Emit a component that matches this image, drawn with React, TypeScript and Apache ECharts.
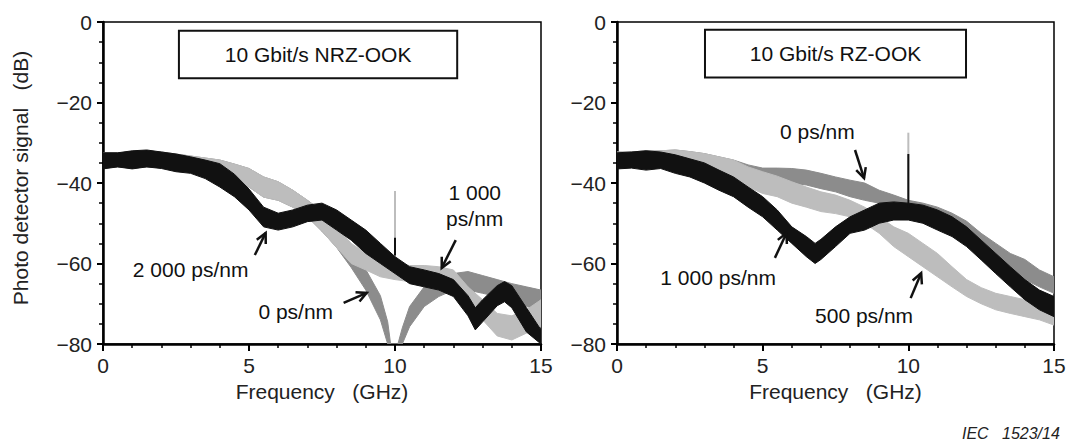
import React, { useEffect, useRef } from 'react';
import * as echarts from 'echarts';

const FONT = '"Liberation Sans", Arial, Helvetica, sans-serif';
const BLACK = '#111111';
const DARK_GRAY = '#8c8c8c';
const LIGHT_GRAY = '#bdbdbd';

// ---------- Left panel: 10 Gbit/s NRZ-OOK ----------
const nrzFreq = [0, 0.5, 1, 1.5, 2, 2.5, 3, 3.5, 4, 4.5, 5, 5.5, 6, 6.5, 7, 7.5, 8, 8.5, 9, 9.5, 10, 10.5, 11, 11.5, 12, 12.5, 13, 13.5, 14, 14.5, 15];
const nrz2000Freq = [0, 0.5, 1, 1.5, 2, 2.5, 3, 3.5, 4, 4.5, 5, 5.5, 6, 6.5, 7, 7.5, 8, 8.5, 9, 9.5, 10, 10.5, 11, 11.5, 12, 12.5, 12.75, 13, 13.5, 13.75, 14, 14.5, 15];
const nrz2000Upper = [-32.5, -32.5, -32, -31.8, -32.3, -32.8, -33.5, -34.3, -35.2, -37.8, -41.5, -46, -47.5, -46.7, -45.5, -45, -46.7, -49.2, -51.7, -55, -58.3, -60.8, -61.6, -62.5, -64, -68, -71, -69, -65.5, -64.5, -65.5, -71, -76.5];
const nrz2000Lower = [-36.5, -36, -36.5, -36, -36.4, -37.2, -37.6, -38.9, -41, -43.4, -46.7, -50.9, -51.7, -50.9, -49.6, -49.2, -51.7, -54.2, -57.5, -60, -62.5, -65, -65.8, -66.6, -68.2, -73, -76.5, -74.5, -70.5, -69.5, -71, -77, -80];
const nrz1000Upper = [-32.5, -32.5, -32.3, -32, -32.3, -32.8, -33.3, -33.8, -34.3, -35.3, -36.4, -38.5, -39.7, -41.8, -44.3, -47, -51, -55, -57.5, -59, -60, -60.5, -60.5, -60.8, -61.6, -65.8, -69, -72.4, -73, -71.5, -69];
const nrz1000Lower = [-36, -36, -36, -36, -36.2, -36.6, -37, -37.6, -38.4, -39.6, -41, -43.5, -44.3, -46, -48.4, -52, -56, -60, -61.6, -63.3, -64, -64.5, -64.5, -65, -65.8, -70.7, -74, -78, -79, -77.3, -75.7];
const nrz0Freq = [0, 0.5, 1, 1.5, 2, 2.5, 3, 3.5, 4, 4.5, 5, 5.5, 6, 6.5, 7, 7.5, 8, 8.5, 9, 9.5, 9.75, 9.85, 10.1, 10.25, 10.5, 11, 11.5, 12, 12.5, 13, 13.5, 14, 14.5, 15];
const nrz0Upper = [-32.5, -32.5, -32.3, -32, -32.3, -32.8, -33.3, -33.8, -34.3, -35.3, -36.4, -38.5, -39.7, -41.8, -44.3, -47, -51, -56.5, -61.5, -68, -74.5, -80, -80, -76, -70.7, -65.8, -64, -62.5, -62, -63, -64, -65, -65.8, -66.6];
const nrz0Lower = [-36, -36, -36, -36, -36.2, -36.6, -37, -37.6, -38.4, -39.6, -41, -43.5, -44.3, -46, -48.4, -52, -56, -61, -66.6, -74, -80, -80, -80, -80, -75.7, -70.7, -68.2, -66.6, -66.6, -67.4, -68.2, -69, -70.7, -71.5];
const nrzToneFreq = [10, 10];
const nrzToneGray = [-60, -42];
const nrzToneBlack = [-58, -53.6];

// ---------- Right panel: 10 Gbit/s RZ-OOK ----------
const rzFreq = [0, 0.5, 1, 1.5, 2, 2.5, 3, 3.5, 4, 4.5, 5, 5.5, 6, 6.5, 7, 7.5, 8, 8.5, 9, 9.5, 10, 10.5, 11, 11.5, 12, 12.5, 13, 13.5, 14, 14.5, 15];
const rz0Upper = [-32.3, -32.3, -32, -32, -31.8, -32.2, -32.7, -33.5, -34.3, -35.5, -36.3, -36.3, -36.4, -36.8, -37.6, -38.5, -39.3, -40, -41.8, -43, -44.3, -45, -46, -47.5, -49.5, -52.5, -55, -57.5, -59, -61.6, -63.3];
const rz0Lower = [-36.2, -36, -36.2, -36, -36, -36.5, -37.4, -38, -38.8, -39.2, -39.3, -39.7, -40, -40.5, -41.4, -42.2, -43.4, -44.3, -45, -46, -46.7, -48, -49.5, -51.5, -53.5, -57, -59, -61.6, -64, -65.8, -67.4];
const rz500Upper = [-32.3, -32.3, -32, -32, -31.8, -32.2, -32.7, -33.5, -34.3, -36, -37.2, -38.3, -39.7, -41, -42.2, -43, -44.3, -46, -48.4, -50.9, -52.5, -55, -57.5, -60.8, -64, -66, -67.4, -68.2, -69, -69.9, -70.7];
const rz500Lower = [-36.2, -36, -36.2, -36, -36, -36.5, -37.6, -38.5, -39.7, -41, -42.6, -43.4, -45, -46, -47.1, -47.6, -48.4, -50, -52.5, -55.8, -58.3, -60.8, -63.3, -65.8, -68.2, -70, -71.5, -72.4, -73.2, -74, -75.3];
const rz1000Freq = [0, 0.5, 1, 1.5, 2, 2.5, 3, 3.5, 4, 4.5, 5, 5.5, 6, 6.5, 6.8, 7, 7.5, 8, 8.5, 9, 9.5, 10, 10.5, 11, 11.5, 12, 12.5, 13, 13.5, 14, 14.5, 15];
const rz1000Upper = [-32.5, -32.3, -32, -32.3, -33, -34, -35, -36.8, -38.5, -41, -43.4, -46.7, -50.9, -53.3, -55, -54, -50.9, -48.4, -46.7, -45, -44.7, -45, -45.5, -46.7, -48.4, -50.9, -54.2, -57.5, -60.8, -64, -66.6, -68.2];
const rz1000Lower = [-36.5, -36.3, -36.8, -36.4, -37.6, -38.5, -40, -41.8, -43.4, -46, -48.4, -51.7, -55, -58.3, -60, -59, -55.8, -52.5, -51.7, -50, -49.2, -49.2, -50, -51.7, -53.3, -55.8, -59.1, -62.5, -65.8, -69, -71.5, -73.2];
const rzToneFreq = [10, 10];
const rzToneGray = [-47, -27.5];
const rzToneBlack = [-46, -32.8];

// ---------- Texts ----------
const panelTitles = ['10 Gbit/s NRZ-OOK', '10 Gbit/s RZ-OOK'];
const xAxisTitle = 'Frequency   (GHz)';
const yAxisTitle = 'Photo detector signal   (dB)';
const sourceNote = 'IEC   1523/14';

// annotations (data coordinates)
const annLabels = [['1 000', 'ps/nm'], ['2 000 ps/nm'], ['0 ps/nm'], ['0 ps/nm'], ['1 000 ps/nm'], ['500 ps/nm']];
const annPanel = [0, 0, 0, 1, 1, 1];
const annText = [[12.73, -45.5], [3.0, -61.6], [6.6, -72], [6.88, -27.3], [3.47, -63.4], [8.48, -72.8]];
const annTail = [[12.08, -54.2], [5.2, -57.9], [8.24, -69.8], [8.17, -31.8], [5.42, -58.6], [10.08, -68.6]];
const annHead = [[11.6, -61.1], [5.57, -52.4], [9.03, -67.3], [8.48, -38.8], [5.82, -52.4], [10.44, -62.4]];
const boxCorners = [[[2.6, -2.2], [12.13, -14]], [[3.02, -1.9], [11.98, -13.8]]];

function band(idx: number, freq: number[], upper: number[], lower: number[], color: string, z: number) {
  return {
    type: 'custom',
    xAxisIndex: idx,
    yAxisIndex: idx,
    z,
    silent: true,
    clip: true,
    data: freq.map((f, i) => [f, upper[i], lower[i]]),
    encode: { x: 0, y: [1, 2] },
    renderItem: (params: any, api: any) => {
      if (params.dataIndex !== 0) return null;
      const pts: number[][] = [];
      for (let i = 0; i < freq.length; i++) pts.push(api.coord([freq[i], upper[i]]));
      for (let i = freq.length - 1; i >= 0; i--) pts.push(api.coord([freq[i], lower[i]]));
      return {
        type: 'polygon',
        shape: { points: pts },
        style: { fill: color, stroke: color, lineWidth: 1 },
      };
    },
  };
}

function tone(idx: number, freq: number[], vals: number[], color: string, z: number) {
  return {
    type: 'line',
    xAxisIndex: idx,
    yAxisIndex: idx,
    z,
    silent: true,
    symbol: 'none',
    data: freq.map((f, i) => [f, vals[i]]),
    lineStyle: { color, width: 2 },
  };
}

const axisText = { color: '#222', fontSize: 21, fontFamily: FONT };

function xAxisCfg(gridIndex: number) {
  return {
    type: 'value',
    gridIndex,
    min: 0,
    max: 15,
    interval: 5,
    axisLine: { show: true, onZero: false, lineStyle: { color: '#000', width: 2.5 } },
    axisTick: { show: true, inside: false, length: 7, lineStyle: { color: '#000', width: 2 } },
    minorTick: { show: true, splitNumber: 5, length: 4, lineStyle: { color: '#000', width: 1.5 } },
    splitLine: { show: false },
    minorSplitLine: { show: false },
    axisLabel: { ...axisText, margin: 11 },
    name: xAxisTitle,
    nameLocation: 'middle',
    nameGap: 35,
    nameTextStyle: { ...axisText },
  };
}

function yAxisCfg(gridIndex: number) {
  return {
    type: 'value',
    gridIndex,
    min: -80,
    max: 0,
    interval: 20,
    axisLine: { show: true, onZero: false, lineStyle: { color: '#000', width: 2.5 } },
    axisTick: { show: true, inside: false, length: 6, lineStyle: { color: '#000', width: 2 } },
    minorTick: { show: true, splitNumber: 4, length: 4, lineStyle: { color: '#000', width: 1.5 } },
    splitLine: { show: false },
    minorSplitLine: { show: false },
    axisLabel: {
      ...axisText,
      margin: 11,
      formatter: (v: number) => (v < 0 ? '\u2212' + String(-v) : String(v)),
    },
  };
}

export default function App() {
  const ref = useRef<HTMLDivElement>(null);
  useEffect(() => {
    const chart = echarts.init(ref.current as HTMLDivElement, null, { renderer: 'svg' });
    const option: any = {
      animation: false,
      backgroundColor: '#ffffff',
      grid: [
        { left: 103, top: 22, width: 438, height: 322, show: true, borderColor: '#000', borderWidth: 1.5, backgroundColor: 'transparent' },
        { left: 617, top: 22, width: 437, height: 322, show: true, borderColor: '#000', borderWidth: 1.5, backgroundColor: 'transparent' },
      ],
      xAxis: [xAxisCfg(0), xAxisCfg(1)],
      yAxis: [yAxisCfg(0), yAxisCfg(1)],
      series: [
        band(0, nrz0Freq, nrz0Upper, nrz0Lower, DARK_GRAY, 2),
        band(0, nrzFreq, nrz1000Upper, nrz1000Lower, LIGHT_GRAY, 3),
        tone(0, nrzToneFreq, nrzToneGray, LIGHT_GRAY, 4),
        band(0, nrz2000Freq, nrz2000Upper, nrz2000Lower, BLACK, 5),
        tone(0, nrzToneFreq, nrzToneBlack, BLACK, 6),
        band(1, rzFreq, rz0Upper, rz0Lower, DARK_GRAY, 2),
        band(1, rzFreq, rz500Upper, rz500Lower, LIGHT_GRAY, 3),
        tone(1, rzToneFreq, rzToneGray, LIGHT_GRAY, 4),
        band(1, rz1000Freq, rz1000Upper, rz1000Lower, BLACK, 5),
        tone(1, rzToneFreq, rzToneBlack, BLACK, 6),
      ],
    };
    chart.setOption(option);

    const px = (panel: number, p: number[]) => chart.convertToPixel({ gridIndex: panel }, p) as number[];
    const graphics: any[] = [];

    boxCorners.forEach((c, i) => {
      const a = px(i, c[0]);
      const b = px(i, c[1]);
      graphics.push({
        type: 'rect',
        z: 20,
        shape: { x: a[0], y: a[1], width: b[0] - a[0], height: b[1] - a[1] },
        style: { fill: '#fff', stroke: '#111', lineWidth: 2 },
      });
      graphics.push({
        type: 'text',
        z: 21,
        x: (a[0] + b[0]) / 2,
        y: (a[1] + b[1]) / 2,
        style: {
          text: panelTitles[i], fill: '#111', font: '21px ' + FONT,
          align: 'center', verticalAlign: 'middle', textAlign: 'center', textVerticalAlign: 'middle',
        },
      });
    });

    annLabels.forEach((lines, i) => {
      const p = annPanel[i];
      const t = px(p, annText[i]);
      graphics.push({
        type: 'text',
        z: 20,
        x: t[0],
        y: t[1],
        style: {
          text: lines.join('\n'), fill: '#111', font: '21px ' + FONT, lineHeight: 26,
          align: 'center', verticalAlign: 'middle', textAlign: 'center', textVerticalAlign: 'middle',
        },
      });
      const tail = px(p, annTail[i]);
      const head = px(p, annHead[i]);
      const dx = head[0] - tail[0];
      const dy = head[1] - tail[1];
      const len = Math.sqrt(dx * dx + dy * dy);
      const ux = dx / len;
      const uy = dy / len;
      const L = 10;
      const W = 5;
      graphics.push({
        type: 'line',
        z: 20,
        shape: { x1: tail[0], y1: tail[1], x2: head[0], y2: head[1] },
        style: { stroke: '#111', lineWidth: 2.5 },
      });
      graphics.push({
        type: 'polyline',
        z: 20,
        shape: {
          points: [
            [head[0] - ux * L - uy * W, head[1] - uy * L + ux * W],
            [head[0], head[1]],
            [head[0] - ux * L + uy * W, head[1] - uy * L - ux * W],
          ],
        },
        style: { stroke: '#111', lineWidth: 2.5, fill: 'none' },
      });
    });

    graphics.push({
      type: 'text',
      z: 20,
      x: 20,
      y: 178,
      rotation: Math.PI / 2,
      style: {
        text: yAxisTitle, fill: '#222', font: '21px ' + FONT,
        align: 'center', verticalAlign: 'middle', textAlign: 'center', textVerticalAlign: 'middle',
      },
    });

    graphics.push({
      type: 'text',
      z: 20,
      x: 962,
      y: 433,
      style: {
        text: sourceNote, fill: '#222', font: 'italic 16px ' + FONT,
        align: 'left', verticalAlign: 'middle', textAlign: 'left', textVerticalAlign: 'middle',
      },
    });

    chart.setOption({ graphic: graphics });
    return () => chart.dispose();
  }, []);

  return (
    <div
      ref={ref}
      style={{ position: 'fixed', left: 0, top: 0, width: 1070, height: 444, background: '#fff' }}
    />
  );
}
